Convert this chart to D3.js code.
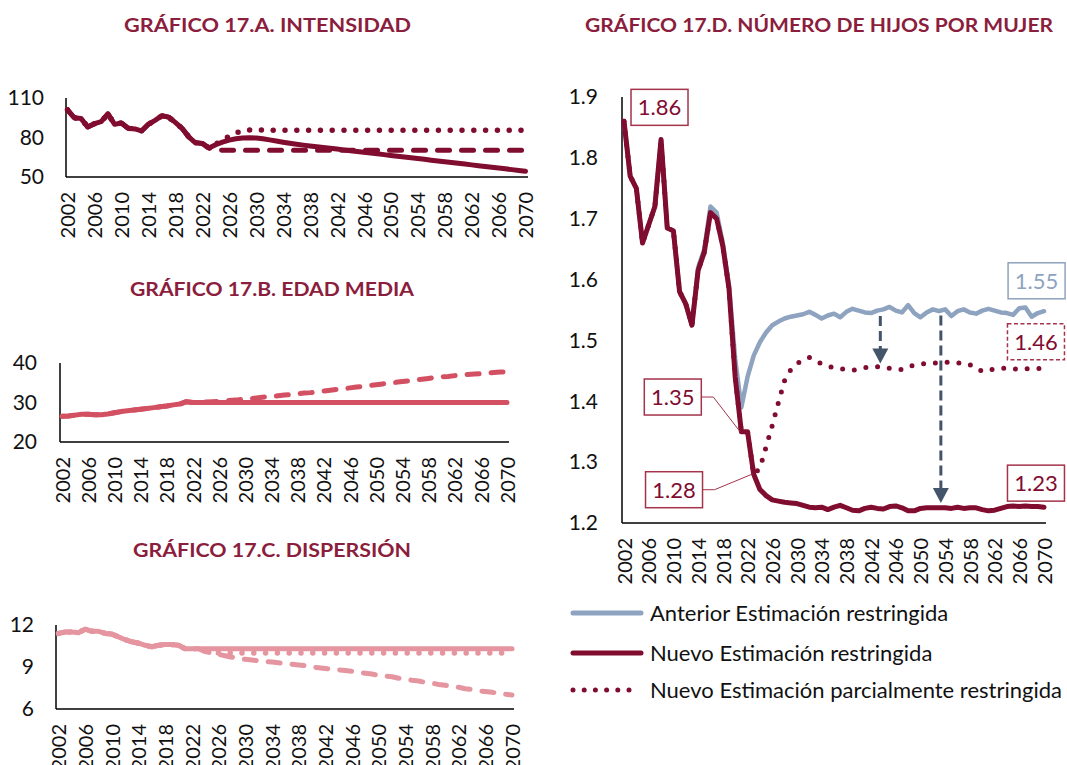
<!DOCTYPE html>
<html>
<head>
<meta charset="utf-8">
<script src="https://cdn.jsdelivr.net/npm/d3@7"></script>
<style>
  body { margin: 0; background: #fff; }
  svg { display: block; }
  text { font-family: Lato, "Open Sans", sans-serif; }
</style>
</head>
<body>
<svg id="chart" width="1067" height="765"></svg>
<script>
// ---- data ----
const years = d3.range(2002, 2071);
const tickYears = [2002, 2006, 2010, 2014, 2018, 2022, 2026, 2030, 2034, 2038, 2042, 2046, 2050, 2054, 2058, 2062, 2066, 2070];

// 17.A intensidad (2002-2023 observed, then projections)
const intensidadHist = [101, 95, 94.5, 88, 90.5, 92, 98, 90, 91, 87, 86.5, 85, 90, 93, 96.5, 95.5, 91.5, 87, 80.5, 76, 75.5, 72];
const intensidadSolid = [74.5, 76.5, 78, 79, 79.6, 79.8, 79.6, 79, 78.2, 77.3, 76.4, 75.6, 74.9, 74.2, 73.6, 73.0, 72.4, 71.8, 71.2, 70.6,
  70.0, 69.4, 68.8, 68.2, 67.6, 67.0, 66.4, 65.8, 65.2, 64.6, 64.0, 63.4, 62.8, 62.2, 61.6, 61.0, 60.4, 59.8, 59.2, 58.6,
  58.0, 57.4, 56.8, 56.2, 55.6, 55.0, 54.4];
const intensidadDashed = [70.8, 70.3, 70.3, 70.3, 70.3, 70.3, 70.3, 70.3, 70.3, 70.3, 70.3, 70.3, 70.3, 70.3, 70.3, 70.3, 70.3, 70.3, 70.3, 70.3,
  70.3, 70.3, 70.3, 70.3, 70.3, 70.3, 70.3, 70.3, 70.3, 70.3, 70.3, 70.3, 70.3, 70.3, 70.3, 70.3, 70.3, 70.3, 70.3, 70.3,
  70.3, 70.3, 70.3, 70.3, 70.3, 70.3, 70.3];
const intensidadDotted = [75, 78, 81, 83.5, 85, 85.7, 85.8, 85.6, 85.5, 85.5, 85.5, 85.5, 85.5, 85.5, 85.5, 85.5, 85.5, 85.5, 85.5, 85.5,
  85.5, 85.5, 85.5, 85.5, 85.5, 85.5, 85.5, 85.5, 85.5, 85.5, 85.5, 85.5, 85.5, 85.5, 85.5, 85.5, 85.5, 85.5, 85.5, 85.5,
  85.5, 85.5, 85.5, 85.5, 85.5, 85.5, 85.5];

// 17.B edad media (2002-2022 observed)
const edadHist = [26.5, 26.6, 26.8, 27.0, 27.0, 26.9, 26.9, 27.1, 27.4, 27.7, 27.9, 28.1, 28.3, 28.5, 28.7, 28.9, 29.1, 29.4, 29.6, 30.2, 30.0];
const edadSolid = [30, 30, 30, 30, 30, 30, 30, 30, 30, 30, 30, 30, 30, 30, 30, 30, 30, 30, 30, 30, 30, 30, 30, 30,
  30, 30, 30, 30, 30, 30, 30, 30, 30, 30, 30, 30, 30, 30, 30, 30, 30, 30, 30, 30, 30, 30, 30, 30];
const edadDashed = [30.0, 30.1, 30.2, 30.3, 30.4, 30.6, 30.7, 30.9, 31.0, 31.2, 31.4, 31.5, 31.7, 31.9, 32.0, 32.2, 32.4, 32.5, 32.7, 32.9,
  33.1, 33.3, 33.5, 33.7, 33.9, 34.1, 34.3, 34.5, 34.7, 34.9, 35.1, 35.3, 35.5, 35.7, 35.9, 36.1, 36.3, 36.5, 36.6, 36.8,
  36.9, 37.1, 37.2, 37.3, 37.4, 37.6, 37.7, 37.8];

// 17.C dispersion (2002-2023 observed)
const dispHist = [11.4, 11.5, 11.5, 11.45, 11.7, 11.55, 11.55, 11.4, 11.35, 11.15, 10.95, 10.8, 10.7, 10.55, 10.45, 10.55, 10.6, 10.6, 10.55, 10.3, 10.3, 10.3];
const dispSolid = [10.3, 10.3, 10.3, 10.3, 10.3, 10.3, 10.3, 10.3, 10.3, 10.3, 10.3, 10.3, 10.3, 10.3, 10.3, 10.3, 10.3, 10.3, 10.3, 10.3,
  10.3, 10.3, 10.3, 10.3, 10.3, 10.3, 10.3, 10.3, 10.3, 10.3, 10.3, 10.3, 10.3, 10.3, 10.3, 10.3, 10.3, 10.3, 10.3, 10.3,
  10.3, 10.3, 10.3, 10.3, 10.3, 10.3, 10.3];
const dispDotted = [10.2, 10.1, 10.0, 10.0, 10.0, 10.0, 10.0, 10.0, 10.0, 10.0, 10.0, 10.0, 10.0, 10.0, 10.0, 10.0, 10.0, 10.0, 10.0, 10.0,
  10.0, 10.0, 10.0, 10.0, 10.0, 10.0, 10.0, 10.0, 10.0, 10.0, 10.0, 10.0, 10.0, 10.0, 10.0, 10.0, 10.0, 10.0, 10.0, 10.0,
  10.0, 10.0, 10.0, 10.0, 10.0, 10.0, 10.0];
const dispDashed = [10.1, 10.0, 9.9, 9.8, 9.7, 9.6, 9.55, 9.5, 9.45, 9.4, 9.35, 9.3, 9.25, 9.2, 9.15, 9.1, 9.0, 8.95, 8.9, 8.85,
  8.8, 8.75, 8.7, 8.6, 8.55, 8.5, 8.4, 8.35, 8.3, 8.2, 8.15, 8.05, 8.0, 7.9, 7.85, 7.75, 7.7, 7.6, 7.55, 7.45,
  7.4, 7.3, 7.25, 7.2, 7.1, 7.05, 7.0];

// 17.D numero de hijos por mujer
const hijosAnterior = [1.86, 1.77, 1.75, 1.66, 1.69, 1.72, 1.83, 1.685, 1.68, 1.58, 1.56, 1.525, 1.62, 1.65, 1.72, 1.71, 1.66, 1.59, 1.47, 1.39,
  1.44, 1.475, 1.497, 1.513, 1.525, 1.531, 1.536, 1.539, 1.541, 1.543, 1.547, 1.542, 1.536, 1.541, 1.544, 1.538, 1.547, 1.552, 1.549, 1.546,
  1.545, 1.549, 1.551, 1.555, 1.549, 1.546, 1.558, 1.545, 1.538, 1.546, 1.551, 1.548, 1.551, 1.540, 1.548, 1.551, 1.546, 1.544, 1.549, 1.552,
  1.549, 1.546, 1.545, 1.542, 1.553, 1.554, 1.539, 1.545, 1.548];
const hijosNuevo = [1.86, 1.77, 1.75, 1.66, 1.69, 1.72, 1.83, 1.685, 1.68, 1.58, 1.56, 1.525, 1.615, 1.645, 1.71, 1.70, 1.655, 1.585, 1.44, 1.35,
  1.35, 1.28, 1.255, 1.245, 1.238, 1.236, 1.234, 1.233, 1.232, 1.229, 1.226, 1.225, 1.226, 1.222, 1.226, 1.229, 1.225, 1.221, 1.220, 1.224,
  1.226, 1.224, 1.223, 1.227, 1.228, 1.225, 1.220, 1.220, 1.224, 1.225, 1.225, 1.225, 1.225, 1.224, 1.226, 1.224, 1.225, 1.225, 1.222, 1.220,
  1.221, 1.224, 1.227, 1.228, 1.227, 1.228, 1.227, 1.227, 1.226];
const hijosParcial = [1.86, 1.77, 1.75, 1.66, 1.69, 1.72, 1.83, 1.685, 1.68, 1.58, 1.56, 1.525, 1.615, 1.645, 1.71, 1.70, 1.655, 1.585, 1.44, 1.35,
  1.35, 1.28, 1.29, 1.325, 1.36, 1.398, 1.434, 1.452, 1.462, 1.468, 1.472, 1.466, 1.462, 1.458, 1.455, 1.454, 1.452, 1.451, 1.453, 1.455,
  1.457, 1.457, 1.456, 1.454, 1.453, 1.452, 1.456, 1.460, 1.461, 1.462, 1.463, 1.463, 1.464, 1.464, 1.463, 1.463, 1.460, 1.456, 1.449, 1.451,
  1.453, 1.454, 1.455, 1.454, 1.452, 1.453, 1.454, 1.454, 1.454];

const legendLabels = ["Anterior Estimación restringida", "Nuevo Estimación restringida", "Nuevo Estimación parcialmente restringida"];

// ---- styles ----
const MAROON = "#800c2f";
const TITLE = "#8b1d3d";
const BOX = "#a3344b";
const GREY = "#8ea3bf";
const ROSE = "#d35063";
const PINK = "#e5959f";
const SLATE = "#44546a";

const STYLE = {
  solid: {dash: null, w: 5},
  dashed: {dash: "12 12", w: 5},
  dotted: {dash: "0 11.8", w: 5.5}
};

const svg = d3.select("#chart");

// title width forced to the reference width (the original face is wider than Lato)
function title(txt, cx, cy, width) {
  svg.append("text").attr("x", cx).attr("y", cy).attr("dy", "0.35em")
      .attr("text-anchor", "middle").attr("fill", TITLE)
      .attr("font-size", 19).attr("font-weight", 700)
      .attr("textLength", width).attr("lengthAdjust", "spacingAndGlyphs")
      .text(txt);
}

function panel(o) {
  const x = d3.scaleLinear().domain([2002, 2070]).range(o.xr);
  const y = d3.scaleLinear().domain(o.yd).range(o.yr);
  const g = svg.append("g");

  // y labels
  const ya = g.append("g").attr("transform", "translate(" + o.axisX + ",0)")
      .call(d3.axisLeft(y).tickValues(o.yt).tickSize(0).tickPadding(o.pad).tickFormat(o.fmt || d3.format("d")));
  ya.select(".domain").remove();
  ya.selectAll("text").attr("font-size", o.fs).attr("fill", "#111").attr("font-family", "Lato, sans-serif");

  // x labels, rotated
  const xa = g.append("g").attr("transform", "translate(0," + o.yr[0] + ")")
      .call(d3.axisBottom(x).tickValues(tickYears).tickSize(0).tickFormat(d3.format("d")));
  xa.select(".domain").remove();
  xa.selectAll("text")
      .attr("transform", "rotate(-90)").attr("text-anchor", "end")
      .attr("x", -15).attr("y", 0).attr("dy", "0.36em")
      .attr("font-size", o.xfs).attr("fill", "#111").attr("font-family", "Lato, sans-serif");

  // axis lines
  g.append("line").attr("x1", o.axisX).attr("x2", o.axisX).attr("y1", o.yr[1]).attr("y2", o.yr[0])
      .attr("stroke", "#000").attr("stroke-width", 1.5);
  g.append("line").attr("x1", o.axisX).attr("x2", o.axisRight).attr("y1", o.yr[0]).attr("y2", o.yr[0])
      .attr("stroke", "#000").attr("stroke-width", 1.5);

  const line = d3.line().x((d, i) => x(years[i])).y(d => y(d));
  o.series.forEach(s => {
    const st = STYLE[s.style];
    g.append("path").datum(s.values)
        .attr("d", line)
        .attr("fill", "none")
        .attr("stroke", s.color)
        .attr("stroke-width", s.w || st.w)
        .attr("stroke-linecap", "round")
        .attr("stroke-linejoin", "round")
        .attr("stroke-dasharray", st.dash);
  });
  return {x, y, g};
}

// ---- 17.A ----
title("GRÁFICO 17.A. INTENSIDAD", 267.5, 25, 287);
panel({
  xr: [67.5, 525.5], axisX: 66, axisRight: 528,
  yd: [50, 110], yr: [177, 98], yt: [50, 80, 110], pad: 22, fs: 21, xfs: 20,
  series: [
    {values: intensidadHist.concat(intensidadDotted), color: MAROON, style: "dotted"},
    {values: intensidadHist.concat(intensidadDashed), color: MAROON, style: "dashed"},
    {values: intensidadHist.concat(intensidadSolid), color: MAROON, style: "solid"}
  ]
});

// ---- 17.B ----
title("GRÁFICO 17.B. EDAD MEDIA", 272, 289, 284);
panel({
  xr: [62, 507], axisX: 60, axisRight: 509,
  yd: [20, 40], yr: [442, 363], yt: [20, 30, 40], pad: 23, fs: 21, xfs: 20,
  series: [
    {values: edadHist.concat(edadDashed), color: ROSE, style: "dashed"},
    {values: edadHist.concat(edadSolid), color: ROSE, style: "solid"}
  ]
});

// ---- 17.C ----
title("GRÁFICO 17.C. DISPERSIÓN", 272, 550, 278);
panel({
  xr: [58.5, 512], axisX: 56, axisRight: 514,
  yd: [6, 12], yr: [709, 625], yt: [6, 9, 12], pad: 22, fs: 21, xfs: 20,
  series: [
    {values: dispHist.concat(dispDashed), color: PINK, style: "dashed"},
    {values: dispHist.concat(dispDotted), color: PINK, style: "dotted"},
    {values: dispHist.concat(dispSolid), color: PINK, style: "solid"}
  ]
});

// ---- 17.D ----
title("GRÁFICO 17.D. NÚMERO DE HIJOS POR MUJER", 819, 25, 468);
const D = panel({
  xr: [624, 1044], axisX: 622, axisRight: 1046,
  yd: [1.2, 1.9], yr: [523, 97], yt: [1.2, 1.3, 1.4, 1.5, 1.6, 1.7, 1.8, 1.9], pad: 24, fs: 21, xfs: 20,
  fmt: d3.format(".1f"),
  series: [
    {values: hijosAnterior, color: GREY, style: "solid", w: 4.5},
    {values: hijosNuevo, color: MAROON, style: "solid"},
    {values: hijosParcial, color: MAROON, style: "dotted", w: 5}
  ]
});

// arrows between estimates
const arrows = [
  {year: 2043.5, from: 1.545, to: 1.462},
  {year: 2053.3, from: 1.546, to: 1.233}
];
arrows.forEach(a => {
  const ax = D.x(a.year), y0 = D.y(a.from), y1 = D.y(a.to);
  D.g.append("line").attr("x1", ax).attr("x2", ax).attr("y1", y0 + 3).attr("y2", y1 - 14)
      .attr("stroke", SLATE).attr("stroke-width", 3).attr("stroke-dasharray", "10 5");
  D.g.append("path")
      .attr("d", "M" + (ax - 8) + "," + (y1 - 15) + "L" + (ax + 8) + "," + (y1 - 15) + "L" + ax + "," + y1 + "Z")
      .attr("fill", SLATE);
});

// value callouts
const callouts = [
  {text: "1.86", year: 2007.75, value: 1.883, color: BOX, txt: MAROON},
  {text: "1.55", year: 2068.8, value: 1.598, color: GREY, txt: GREY},
  {text: "1.46", year: 2068.7, value: 1.498, color: BOX, txt: MAROON, dashed: true},
  {text: "1.23", year: 2068.7, value: 1.2655, color: BOX, txt: MAROON},
  {text: "1.35", year: 2009.9, value: 1.407, color: BOX, txt: MAROON, target: [2020.8, 1.35]},
  {text: "1.28", year: 2010.1, value: 1.2547, color: BOX, txt: MAROON, target: [2022.8, 1.2805]}
];
callouts.forEach(c => {
  const cx = D.x(c.year), cy = D.y(c.value), w = 57, h = 36;
  if (c.target) {
    D.g.append("polyline")
        .attr("points", [[cx + w / 2, cy], [cx + w / 2 + 12, cy], [D.x(c.target[0]), D.y(c.target[1])]].join(" "))
        .attr("fill", "none").attr("stroke", c.color).attr("stroke-width", 1);
  }
  D.g.append("rect").attr("x", cx - w / 2).attr("y", cy - h / 2).attr("width", w).attr("height", h)
      .attr("fill", "#fff").attr("stroke", c.color).attr("stroke-width", 1.5)
      .attr("stroke-dasharray", c.dashed ? "4 2.5" : null);
  D.g.append("text").attr("x", cx).attr("y", cy).attr("dy", "0.36em").attr("text-anchor", "middle")
      .attr("font-size", 22).attr("fill", c.txt).text(c.text);
});

// legend
const legendRows = [
  {label: legendLabels[0], color: GREY, style: "solid", y: 613},
  {label: legendLabels[1], color: MAROON, style: "solid", y: 653},
  {label: legendLabels[2], color: MAROON, style: "dotted", y: 690}
];
const lg = svg.append("g");
legendRows.forEach(r => {
  lg.append("line").attr("x1", 573).attr("x2", r.style === "dotted" ? 636 : 641).attr("y1", r.y).attr("y2", r.y)
      .attr("stroke", r.color).attr("stroke-width", 5).attr("stroke-linecap", "round")
      .attr("stroke-dasharray", STYLE[r.style].dash ? "0 11.2" : null);
  lg.append("text").attr("x", 650).attr("y", r.y).attr("dy", "0.35em")
      .attr("font-size", 22).attr("fill", "#111").text(r.label);
});
</script>
</body>
</html>
